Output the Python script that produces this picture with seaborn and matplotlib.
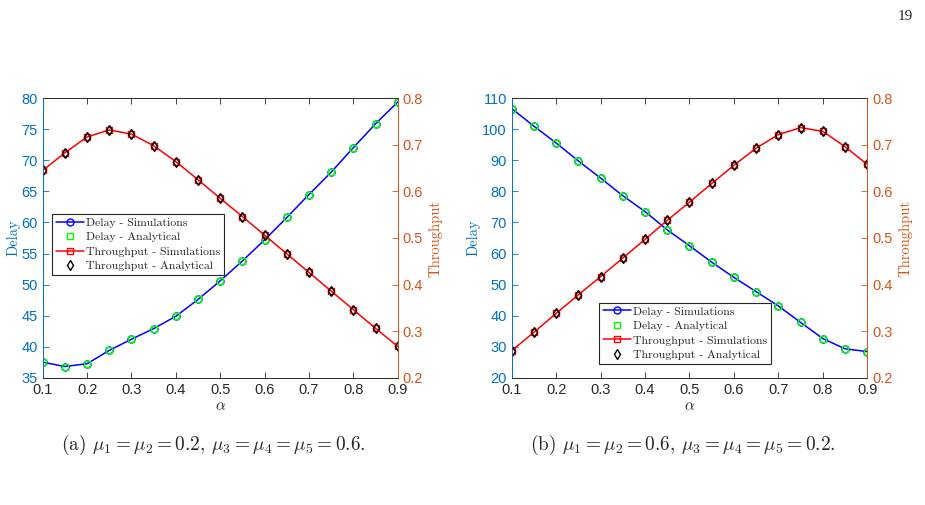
import matplotlib
matplotlib.use("Agg")
import matplotlib.pyplot as plt
import seaborn as sns
import numpy as np

# ==============================================
# Data
# ==============================================
alpha = [0.1, 0.15, 0.2, 0.25, 0.3, 0.35, 0.4, 0.45, 0.5,
         0.55, 0.6, 0.65, 0.7, 0.75, 0.8, 0.85, 0.9]

# panel (a)
delay_sim_a = [37.5, 36.8, 37.25, 39.4, 41.2, 42.9, 44.9, 47.6, 50.6,
               53.8, 57.2, 60.8, 64.5, 68.1, 72.05, 75.9, 79.4]
delay_ana_a = [37.5, 36.8, 37.25, 39.4, 41.2, 42.9, 44.9, 47.6, 50.6,
               53.8, 57.2, 60.8, 64.5, 68.1, 72.05, 75.9, 79.4]
thr_sim_a = [0.645, 0.683, 0.717, 0.732, 0.723, 0.698, 0.664, 0.625, 0.585,
             0.546, 0.506, 0.466, 0.426, 0.386, 0.346, 0.306, 0.267]
thr_ana_a = [0.645, 0.683, 0.717, 0.732, 0.723, 0.698, 0.664, 0.625, 0.585,
             0.546, 0.506, 0.466, 0.426, 0.386, 0.346, 0.306, 0.267]

# panel (b)
delay_sim_b = [106.7, 101.0, 95.6, 89.8, 84.3, 78.6, 73.5, 67.6, 62.5,
               57.2, 52.3, 47.7, 43.1, 37.8, 32.6, 29.3, 28.4]
delay_ana_b = [106.7, 101.0, 95.6, 89.8, 84.3, 78.6, 73.5, 67.6, 62.5,
               57.2, 52.3, 47.7, 43.1, 37.8, 32.6, 29.3, 28.4]
thr_sim_b = [0.258, 0.2975, 0.338, 0.378, 0.417, 0.457, 0.497, 0.538, 0.577,
             0.617, 0.656, 0.693, 0.722, 0.737, 0.729, 0.696, 0.658]
thr_ana_b = [0.258, 0.2975, 0.338, 0.378, 0.417, 0.457, 0.497, 0.538, 0.577,
             0.617, 0.656, 0.693, 0.722, 0.737, 0.729, 0.696, 0.658]

x_ticks = [0.1, 0.2, 0.3, 0.4, 0.5, 0.6, 0.7, 0.8, 0.9]
delay_ticks_a = [35, 40, 45, 50, 55, 60, 65, 70, 75, 80]
delay_ticks_b = [20, 30, 40, 50, 60, 70, 80, 90, 100, 110]
thr_ticks = [0.2, 0.3, 0.4, 0.5, 0.6, 0.7, 0.8]

legend_labels = ["Delay - Simulations", "Delay - Analytical",
                 "Throughput - Simulations", "Throughput - Analytical"]
caption_a = r"(a) $\mu_1 = \mu_2 = 0.2$, $\mu_3 = \mu_4 = \mu_5 = 0.6$."
caption_b = r"(b) $\mu_1 = \mu_2 = 0.6$, $\mu_3 = \mu_4 = \mu_5 = 0.2$."

# ==============================================
# Style
# ==============================================
sns.set_style("ticks")
plt.rcParams["font.family"] = ["Liberation Sans", "DejaVu Sans"]
plt.rcParams["xtick.direction"] = "in"
plt.rcParams["ytick.direction"] = "in"

mau_trai = "#0072BD"
mau_phai = "#D95319"
mau_truc = "#262626"

fig = plt.figure(figsize=(9.25, 5.05), dpi=100)


def ve_panel(rect, d_sim, d_ana, t_sim, t_ana, ylim, yticks, leg_xy):
    ax = fig.add_axes(rect)
    ax2 = ax.twinx()

    sns.lineplot(x=alpha, y=d_sim, ax=ax, color="b", linewidth=1.1,
                 marker="o", markersize=5, markerfacecolor="none",
                 markeredgecolor="b", markeredgewidth=1.0, label=legend_labels[0])
    sns.lineplot(x=alpha, y=d_ana, ax=ax, color="#00ff00", linestyle="none",
                 marker="s", markersize=4, markerfacecolor="none",
                 markeredgecolor="#00ff00", markeredgewidth=1.0, label=legend_labels[1])
    sns.lineplot(x=alpha, y=t_sim, ax=ax2, color="r", linewidth=1.1,
                 marker="s", markersize=4, markerfacecolor="none",
                 markeredgecolor="r", markeredgewidth=1.0, label=legend_labels[2])
    sns.lineplot(x=alpha, y=t_ana, ax=ax2, color="k", linestyle="none",
                 marker="d", markersize=5.5, markerfacecolor="none",
                 markeredgecolor="k", markeredgewidth=1.0, label=legend_labels[3])

    for a in (ax, ax2):
        if a.get_legend() is not None:
            a.get_legend().remove()

    ax.set_xlim(0.1, 0.9)
    ax.set_xticks(x_ticks)
    ax.set_xticklabels([f"{v:.1f}" for v in x_ticks])
    ax.set_ylim(*ylim)
    ax.set_yticks(yticks)
    ax2.set_ylim(0.2, 0.8)
    ax2.set_yticks(thr_ticks)
    ax2.set_yticklabels([f"{v:.1f}" for v in thr_ticks])

    ax.tick_params(axis="x", colors=mau_truc, labelsize=10.5, length=4, top=True, width=0.6)
    ax.tick_params(axis="y", colors=mau_trai, labelsize=10.5, length=4, width=0.6)
    ax2.tick_params(axis="y", colors=mau_phai, labelsize=10.5, length=4, width=0.6)

    for a in (ax, ax2):
        a.spines["top"].set_visible(True)
        a.spines["top"].set_color(mau_truc)
        a.spines["bottom"].set_color(mau_truc)
        a.spines["left"].set_color(mau_trai)
        a.spines["right"].set_color(mau_phai)
        for s in a.spines.values():
            s.set_linewidth(0.6)

    ax.set_xlabel(r"$\alpha$", fontsize=11, color=mau_truc, math_fontfamily="cm", labelpad=2)
    ax.set_ylabel("Delay", fontsize=10.5, color=mau_trai, family="cmr10", labelpad=1)
    ax2.set_ylabel("Throughput", fontsize=10.5, color=mau_phai, family="cmr10", labelpad=4)

    h1, l1 = ax.get_legend_handles_labels()
    h2, l2 = ax2.get_legend_handles_labels()
    leg = ax2.legend(h1 + h2, l1 + l2, loc="upper left", bbox_to_anchor=leg_xy,
                     bbox_transform=fig.transFigure, borderaxespad=0,
                     prop={"family": "cmr10", "size": 8.5}, fancybox=False,
                     framealpha=1, edgecolor="#262626", handlelength=2.4,
                     handletextpad=0.2, labelspacing=0.36, borderpad=0.3)
    leg.get_frame().set_linewidth(0.8)
    return ax


ve_panel([0.0462, 0.2521, 0.3838, 0.5533], delay_sim_a, delay_ana_a, thr_sim_a, thr_ana_a,
         (35, 80), delay_ticks_a, (0.0565, 0.5762))
ve_panel([0.5532, 0.2521, 0.3844, 0.5533], delay_sim_b, delay_ana_b, thr_sim_b, thr_ana_b,
         (20, 110), delay_ticks_b, (0.6476, 0.4006))

fig.text(213 / 925, 1 - 445 / 505, caption_a, ha="center", va="center", fontsize=13.9,
         family="cmr10", math_fontfamily="cm")
fig.text(683 / 925, 1 - 445 / 505, caption_b, ha="center", va="center", fontsize=13.9,
         family="cmr10", math_fontfamily="cm")
fig.text(905 / 925, 1 - 17 / 505, "19", ha="center", va="center", fontsize=11,
         family="Liberation Serif")

fig.savefig("out.png", dpi=100)
